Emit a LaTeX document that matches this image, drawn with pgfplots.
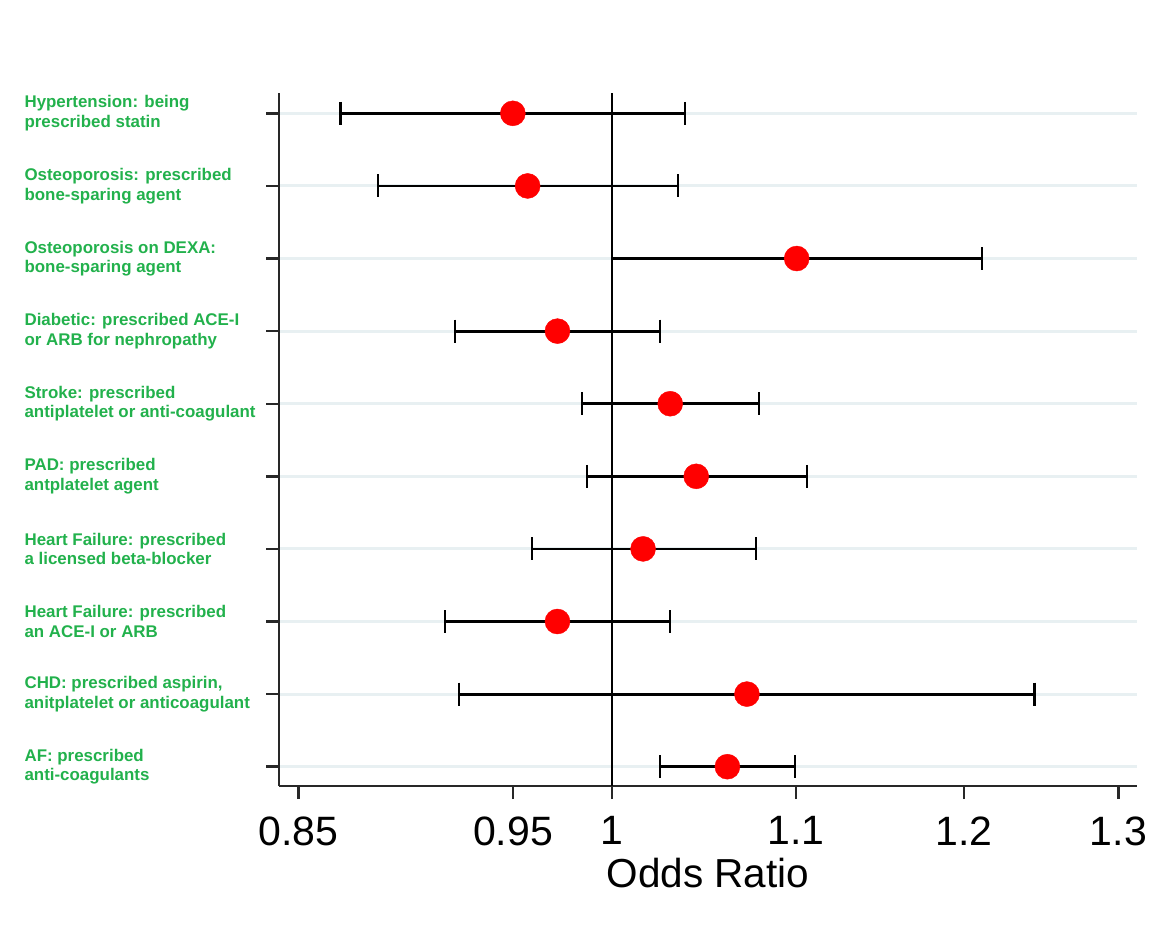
\documentclass[border=0pt]{standalone}
\usepackage{fontspec}
\setmainfont{Liberation Sans}
\usepackage{pgfplots}
\pgfplotsset{compat=1.18}
\definecolor{lblgreen}{RGB}{34,177,76}
\definecolor{gridc}{RGB}{232,240,242}
\definecolor{axc}{RGB}{40,40,40}
\begin{document}
\begin{tikzpicture}
\useasboundingbox (0,0) rectangle (1164pt,939pt);
\begin{axis}[
 at={(279pt,153pt)}, anchor=south west,
 scale only axis, width=858pt, height=693pt,
 xmode=log, xmin=0.8415, xmax=1.3126,
 ymin=0.72, ymax=10.266, y dir=reverse,
 axis x line*=bottom, axis y line*=left,
 axis line style={line width=2.4pt, color=axc},
 xtick={0.85,0.95,1,1.1,1.2,1.3},
 xticklabels={0.85,0.95,1,1.1,1.2,1.3},
 xminorticks=false, yminorticks=false,
 ytick={1,2,3,4,5,6,7,8,9,10},
 yticklabels={{Hypertension: being\\prescribed statin},
  {Osteoporosis: prescribed\\bone-sparing agent},
  {Osteoporosis on DEXA:\\bone-sparing agent},
  {Diabetic: prescribed ACE-I\\or ARB for nephropathy},
  {Stroke: prescribed\\antiplatelet or anti-coagulant},
  {PAD: prescribed\\antplatelet agent},
  {Heart Failure: prescribed\\a licensed beta-blocker},
  {Heart Failure: prescribed\\an ACE-I or ARB},
  {CHD: prescribed aspirin,\\anitplatelet or anticoagulant},
  {AF: prescribed\\anti-coagulants}},
 tick align=outside, major tick length=13pt,
 tick style={line width=2.4pt, color=axc},
 xticklabel style={font=\fontsize{41}{41}\selectfont, text=black, yshift=-14pt},
 yticklabel style={font=\fontsize{16.9}{19.5}\selectfont\bfseries, text=lblgreen, align=left, anchor=west, inner sep=0pt, xshift=-242pt},
 ymajorgrids, major grid style={line width=3pt, color=gridc},
 xlabel={Odds Ratio}, xlabel style={font=\fontsize{40.5}{40.5}\selectfont, yshift=-6pt},
 /pgf/number format/assume math mode=true,
 clip=false,
]
\addplot[black, line width=2.4pt] coordinates {(1,0.72) (1,10.266)};
\pgfplotsset{cistyle/.style={black, line width=2.8pt, mark=|, mark size=11.5pt, mark options={line width=2.4pt}}}
\addplot[cistyle] coordinates {(0.8688,1) (1.0386,1)};
\addplot[cistyle] coordinates {(0.8857,2) (1.0348,2)};
\addplot[cistyle] coordinates {(1.0000,3) (1.2113,3)};
\addplot[cistyle] coordinates {(0.9219,4) (1.0251,4)};
\addplot[cistyle] coordinates {(0.9846,5) (1.0791,5)};
\addplot[cistyle] coordinates {(0.9870,6) (1.1063,6)};
\addplot[cistyle] coordinates {(0.9593,7) (1.0774,7)};
\addplot[cistyle] coordinates {(0.9170,8) (1.0306,8)};
\addplot[cistyle] coordinates {(0.9239,9) (1.2448,9)};
\addplot[cistyle] coordinates {(1.0253,10) (1.0994,10)};
\addplot[only marks, mark=*, mark size=12.5pt, color=red, mark options={draw=red, fill=red}] coordinates {
 (0.9499,1) (0.9572,2) (1.1004,3) (0.9721,4) (1.0306,5)
 (1.0446,6) (1.0162,7) (0.9721,8) (1.0724,9) (1.0616,10)};
\end{axis}
\end{tikzpicture}
\end{document}
